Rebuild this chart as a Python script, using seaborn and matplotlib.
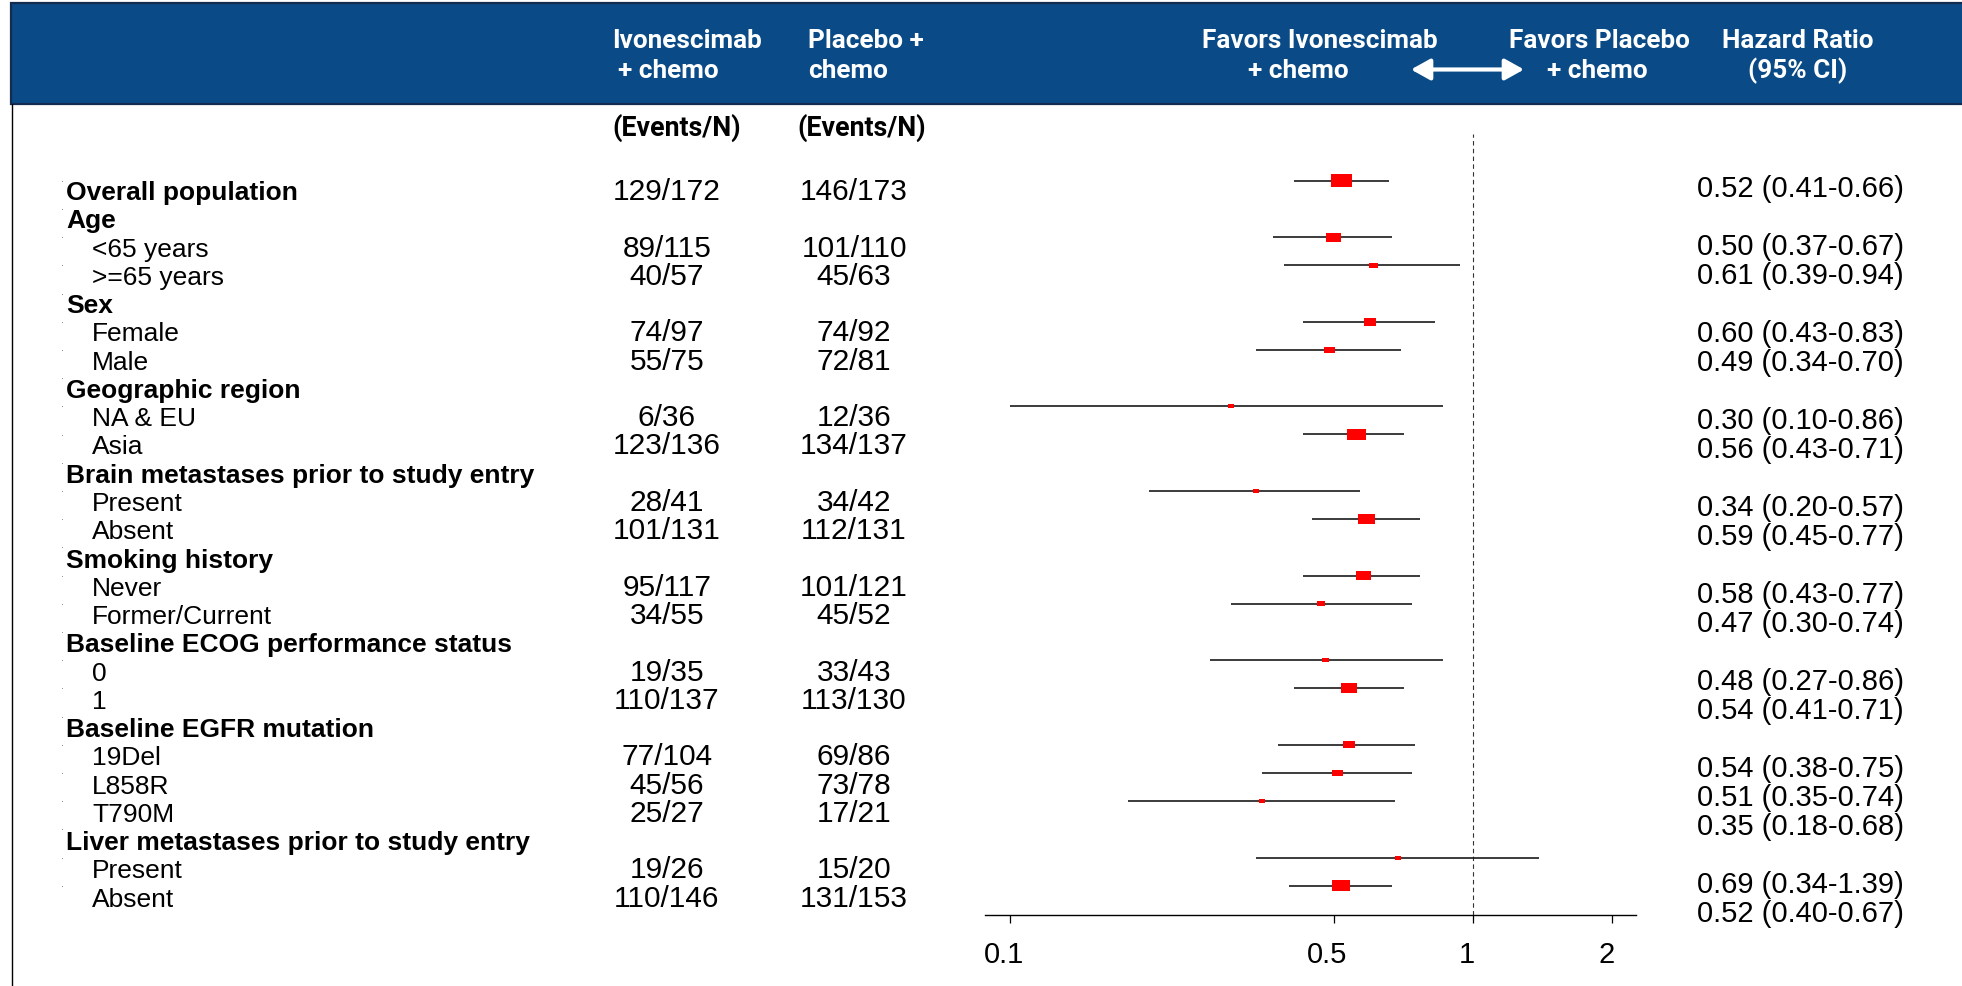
import numpy as np
import pandas as pd
import matplotlib
matplotlib.use("Agg")
import matplotlib.pyplot as plt
import seaborn as sns
from matplotlib.patches import Rectangle, FancyArrowPatch
from matplotlib.path import Path
from matplotlib.transforms import ScaledTranslation
from matplotlib.ticker import NullLocator

# ---------------- data ----------------
row_labels = [
    "Overall population", "Age", "<65 years", ">=65 years", "Sex", "Female", "Male",
    "Geographic region", "NA & EU", "Asia",
    "Brain metastases prior to study entry", "Present", "Absent",
    "Smoking history", "Never", "Former/Current",
    "Baseline ECOG performance status", "0", "1",
    "Baseline EGFR mutation", "19Del", "L858R", "T790M",
    "Liver metastases prior to study entry", "Present", "Absent",
]
is_group = [
    True, True, False, False, True, False, False,
    True, False, False,
    True, False, False,
    True, False, False,
    True, False, False,
    True, False, False, False,
    True, False, False,
]
ivo_events = [
    "129/172", "", "89/115", "40/57", "", "74/97", "55/75",
    "", "6/36", "123/136",
    "", "28/41", "101/131",
    "", "95/117", "34/55",
    "", "19/35", "110/137",
    "", "77/104", "45/56", "25/27",
    "", "19/26", "110/146",
]
pbo_events = [
    "146/173", "", "101/110", "45/63", "", "74/92", "72/81",
    "", "12/36", "134/137",
    "", "34/42", "112/131",
    "", "101/121", "45/52",
    "", "33/43", "113/130",
    "", "69/86", "73/78", "17/21",
    "", "15/20", "131/153",
]
nan = np.nan
hr = [0.52, nan, 0.50, 0.61, nan, 0.60, 0.49, nan, 0.30, 0.56, nan, 0.34, 0.59,
      nan, 0.58, 0.47, nan, 0.48, 0.54, nan, 0.54, 0.51, 0.35, nan, 0.69, 0.52]
ci_low = [0.41, nan, 0.37, 0.39, nan, 0.43, 0.34, nan, 0.10, 0.43, nan, 0.20, 0.45,
          nan, 0.43, 0.30, nan, 0.27, 0.41, nan, 0.38, 0.35, 0.18, nan, 0.34, 0.40]
ci_high = [0.66, nan, 0.67, 0.94, nan, 0.83, 0.70, nan, 0.86, 0.71, nan, 0.57, 0.77,
           nan, 0.77, 0.74, nan, 0.86, 0.71, nan, 0.75, 0.74, 0.68, nan, 1.39, 0.67]
tick_values = [0.1, 0.5, 1, 2]
tick_labels = ["0.1", "0.5", "1", "2"]

# ---------------- style ----------------
sns.set_theme(style="white")
plt.rcParams["font.family"] = ["Liberation Sans", "DejaVu Sans"]
HEAD_FONT = ["Roboto", "DejaVu Sans"]
LABEL_SIZE = 19.0
COUNT_SIZE = 21.5
HR_SIZE = 21.0
HEAD_SIZE = 18.8
NAVY = "#0A4A86"

W, H, DPI = 1962, 987, 100
fig = plt.figure(figsize=(W / DPI, H / DPI), dpi=DPI)
fig.patch.set_facecolor("white")

# canvas in pixel units for the table part
bg = fig.add_axes([0, 0, 1, 1], zorder=0)
bg.set_xlim(0, W)
bg.set_ylim(H, 0)
bg.axis("off")

# header band and left rule
bg.add_patch(Rectangle((10.5, 3.5), W, 101.5, facecolor=NAVY, edgecolor="#132B4F",
                       lw=1.6, zorder=1))
bg.plot([12, 12], [105, H], color="black", lw=1.0, zorder=1)

hdr = dict(color="white", fontsize=HEAD_SIZE, fontweight="bold", family=HEAD_FONT,
           va="baseline", zorder=3)
bg.text(612, 48.5, "Ivonescimab", ha="left", **hdr)
bg.text(618, 78.5, "+ chemo", ha="left", **hdr)
bg.text(808, 48.5, "Placebo +", ha="left", **hdr)
bg.text(808, 78.5, "chemo", ha="left", **hdr)
bg.text(1320, 48.5, "Favors Ivonescimab", ha="center", **hdr)
bg.text(1298, 78.5, "+ chemo", ha="center", **hdr)
bg.text(1599, 48.5, "Favors Placebo", ha="center", **hdr)
bg.text(1597, 78.5, "+ chemo", ha="center", **hdr)
bg.text(1798, 48.5, "Hazard Ratio", ha="center", **hdr)
bg.text(1798, 78.5, "(95% CI)", ha="center", **hdr)
bg.add_patch(FancyArrowPatch((1411, 70.5), (1524, 70.5),
                             arrowstyle="<|-|>,head_length=11.5,head_width=6.4",
                             mutation_scale=1, shrinkA=0, shrinkB=0,
                             color="white", lw=3.0, zorder=3))

sub_hdr = dict(color="black", fontsize=19.3, fontweight="bold", family=HEAD_FONT,
               va="baseline", ha="center")
bg.text(677, 135.5, "(Events/N)", **sub_hdr)
bg.text(862, 135.5, "(Events/N)", **sub_hdr)

# table rows
ROW0, ROW_STEP = 181.7, 28.2        # marker rows (pixels)
TXT0, TXT_STEP = 200.0, 28.27       # text baselines (pixels)
n_rows = len(row_labels)
for i in range(n_rows):
    base = TXT0 + TXT_STEP * i
    if is_group[i]:
        bg.text(66, base, row_labels[i], fontsize=LABEL_SIZE, fontweight="bold",
                ha="left", va="baseline", color="black")
    else:
        bg.text(92, base, row_labels[i], fontsize=LABEL_SIZE,
                ha="left", va="baseline", color="black")
    bg.text(667, base, ivo_events[i], fontsize=COUNT_SIZE, ha="center",
            va="baseline", color="black")
    bg.text(854, base, pbo_events[i], fontsize=COUNT_SIZE, ha="center",
            va="baseline", color="black")
    bg.scatter([62], [ROW0 + ROW_STEP * i], s=0.6, color="#888888", lw=0)

# ---------------- forest panel ----------------
df = pd.DataFrame({"row": np.arange(n_rows), "hr": hr, "lo": ci_low, "hi": ci_high})
est = df.dropna(subset=["hr"]).reset_index(drop=True)
# inverse-variance weight from the 95% CI on the log scale
se = (np.log(est["hi"]) - np.log(est["lo"])) / (2 * 1.96)
est["weight"] = 1.0 / se ** 2

# HR / CI column
HR_ROW0, HR_STEP = 196.7, 29.0
for _, r in est.iterrows():
    bg.text(1697, HR_ROW0 + HR_STEP * r["row"],
            f"{r['hr']:.2f} ({r['lo']:.2f}-{r['hi']:.2f})",
            fontsize=HR_SIZE, ha="left", va="baseline", color="black")

x_left_px, x_right_px = 985.0, 1635.6
y_top_px, y_bot_px = 135.0, 915.7
ax = fig.add_axes([x_left_px / W, 1 - y_bot_px / H,
                   (x_right_px - x_left_px) / W, (y_bot_px - y_top_px) / H], zorder=2)
ax.patch.set_alpha(0)
ax.set_xscale("log")
ax.set_xlim(0.0883, 2.247)
ax.set_ylim((y_bot_px - ROW0) / ROW_STEP, (y_top_px - ROW0) / ROW_STEP)

ax.axvline(1, color="#333333", lw=0.8, dashes=(4, 3), zorder=1)
ax.hlines(est["row"], est["lo"], est["hi"], color="#1a1a1a", lw=1.2, zorder=2)

# wide box marker, area driven by the study weight
BOX_ASPECT = 1.6
box = Path([(-1, -1 / BOX_ASPECT), (1, -1 / BOX_ASPECT), (1, 1 / BOX_ASPECT),
            (-1, 1 / BOX_ASPECT), (-1, -1 / BOX_ASPECT)],
           [Path.MOVETO, Path.LINETO, Path.LINETO, Path.LINETO, Path.CLOSEPOLY])
box_h_px = np.maximum(4.0, 2.0 + 0.16 * est["weight"])
box_w_pt = box_h_px * BOX_ASPECT * 72 / DPI
sns.scatterplot(data=est, x="hr", y="row", marker=box, s=(box_w_pt ** 2).values,
                color="#ff0000", linewidth=0, legend=False, ax=ax, zorder=3)

ax.set_xlabel("")
ax.set_ylabel("")
ax.set_yticks([])
ax.set_xticks(tick_values)
ax.set_xticklabels(tick_labels)
ax.xaxis.set_minor_locator(NullLocator())
ax.tick_params(axis="x", bottom=True, length=6, width=0.9, color="black",
               pad=12, labelsize=HR_SIZE, labelcolor="black")
for side in ("left", "right", "top"):
    ax.spines[side].set_visible(False)
ax.spines["bottom"].set_color("black")
ax.spines["bottom"].set_linewidth(1.0)
shift = ScaledTranslation(-6 / DPI, 0, fig.dpi_scale_trans)
for lab in ax.get_xticklabels():
    lab.set_transform(lab.get_transform() + shift)

fig.savefig("out.png", dpi=DPI, facecolor="white")
